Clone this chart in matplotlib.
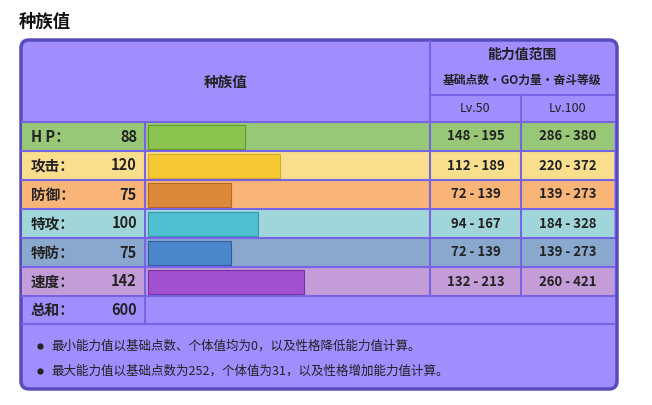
import matplotlib
matplotlib.use("Agg")
import matplotlib.pyplot as plt
from matplotlib.patches import FancyBboxPatch, Rectangle

plt.rcParams["font.family"] = ["Noto Sans CJK SC", "DejaVu Sans"]

stats = ["H P：", "攻击：", "防御：", "特攻：", "特防：", "速度："]
values = [88, 120, 75, 100, 75, 142]
lv50 = ["148 - 195", "112 - 189", "72 - 139", "94 - 167", "72 - 139", "132 - 213"]
lv100 = ["286 - 380", "220 - 372", "139 - 273", "184 - 328", "139 - 273", "260 - 421"]
total = 600
row_bg = ["#97c777", "#f9de8e", "#f8b577", "#a0d6da", "#8aa8ce", "#c39cd8"]
bar_fc = ["#8bc550", "#f6c833", "#dd893a", "#50bfd0", "#4b86cb", "#a150cf"]
bar_ec = ["#5e9a30", "#d8a820", "#b86a20", "#3098a8", "#2f5e9e", "#7a30a0"]
notes = ["最小能力值以基础点数、个体值均为0，以及性格降低能力值计算。",
         "最大能力值以基础点数为252，个体值为31，以及性格增加能力值计算。"]

W, H = 652, 405
fig = plt.figure(figsize=(W/100, H/100), dpi=100)
ax = fig.add_axes([0, 0, 1, 1])
ax.set_xlim(0, W); ax.set_ylim(H, 0); ax.axis("off")

purple = "#a08dfe"; line = "#7664e4"; border = "#574cbc"
ax.text(19, 22, "种族值", fontsize=12.5, fontweight="bold", va="center", ha="left", color="#111")
ax.add_patch(FancyBboxPatch((21, 40), 596, 349, boxstyle="round,pad=0,rounding_size=8",
                            fc=purple, ec=border, lw=2.5, zorder=0))

x0, x1, x2, x3, x4 = 22, 145, 430, 521, 614
ax.text((x0 + x2) / 2, 82, "种族值", fontsize=10.5, fontweight="bold", ha="center", va="center", color="#222")
ax.text((x2 + x4) / 2, 55, "能力值范围", fontsize=10, fontweight="bold", ha="center", va="center", color="#222")
ax.text((x2 + x4) / 2, 80, "基础点数•GO力量•奋斗等级", fontsize=8.5, fontweight="bold", ha="center", va="center", color="#222")
ax.text((x2 + x3) / 2, 109, "Lv.50", fontsize=9, ha="center", va="center", color="#222")
ax.text((x3 + x4) / 2, 109, "Lv.100", fontsize=9, ha="center", va="center", color="#222")
ax.plot([x2, x2], [41, 122], color=line, lw=1.5)
ax.plot([x2, x4], [95, 95], color=line, lw=1.5)
ax.plot([x3, x3], [95, 122], color=line, lw=1.5)

rh = 29
ys = [122 + i * rh for i in range(6)]
for i, y in enumerate(ys):
    ax.add_patch(Rectangle((x0, y), x4 - x0, rh, fc=row_bg[i], ec="none", zorder=1))
    ax.text(31, y + rh / 2, stats[i], fontsize=10.5, fontweight="bold", va="center", ha="left", color="#222", zorder=3)
    ax.text(137, y + rh / 2, str(values[i]), fontsize=10.5, fontweight="bold", va="center", ha="right", color="#222", zorder=3)
    ax.text((x2 + x3) / 2, y + rh / 2, lv50[i], fontsize=9.5, fontweight="bold", va="center", ha="center", color="#222", zorder=3)
    ax.text((x3 + x4) / 2, y + rh / 2, lv100[i], fontsize=9.5, fontweight="bold", va="center", ha="center", color="#222", zorder=3)
scale = 1.1
ax.barh([y + rh / 2 for y in ys], [v * scale for v in values], height=rh - 5, left=148,
        color=bar_fc, edgecolor=bar_ec, lw=0.8, zorder=2)

ty = 122 + 6 * rh
ax.text(31, ty + 14, "总和：", fontsize=10.5, fontweight="bold", va="center", ha="left", color="#222")
ax.text(137, ty + 14, str(total), fontsize=10.5, fontweight="bold", va="center", ha="right", color="#222")
for yy in [122] + [y + rh for y in ys] + [ty + 28]:
    ax.plot([x0, x4], [yy, yy], color=line, lw=1.5, zorder=4)
for xx in [x1]:
    ax.plot([xx, xx], [122, ty + 28], color=line, lw=1.5, zorder=4)
for xx in [x2, x3]:
    ax.plot([xx, xx], [122, ty], color=line, lw=1.5, zorder=4)

for k, n in enumerate(notes):
    yy = 346 + k * 25
    ax.plot(40, yy, "o", ms=3.5, color="#222")
    ax.text(51, yy, n, fontsize=9, va="center", ha="left", color="#222")

fig.savefig("out.png", dpi=100)
